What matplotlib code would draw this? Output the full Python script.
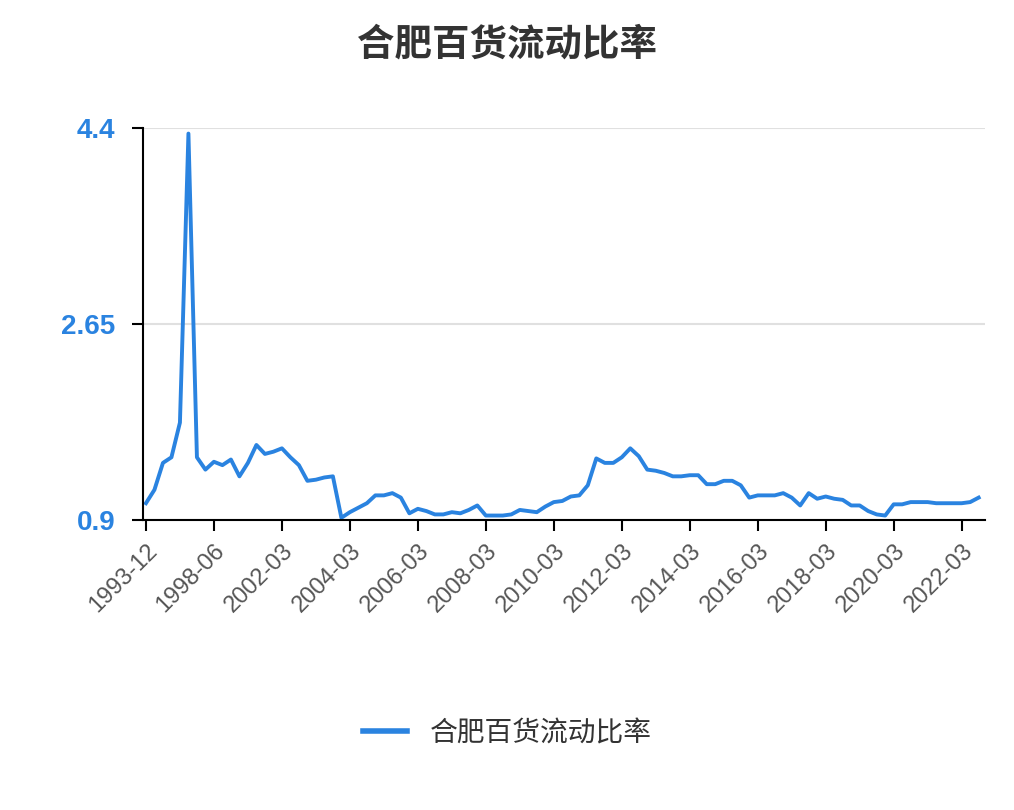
import matplotlib
matplotlib.use("Agg")
import matplotlib.pyplot as plt
from matplotlib.lines import Line2D

plt.rcParams['font.family'] = ['Noto Sans CJK SC', 'DejaVu Sans']

early_labels = ["1993-12", "1994-06", "1994-12", "1995-06", "1995-12", "1996-06", "1996-12", "1997-12",
                "1998-06", "1998-12", "1999-06", "1999-12", "2000-06", "2000-12", "2001-06", "2001-12"]
quarter_start_year = 2002
values = [1.05, 1.17, 1.41, 1.46, 1.77, 4.35, 1.46, 1.35, 1.42, 1.39, 1.44, 1.29, 1.41, 1.57, 1.49, 1.51,
          1.54, 1.46, 1.39, 1.25, 1.26, 1.28, 1.29, 0.92, 0.97, 1.01, 1.05, 1.12, 1.12, 1.14, 1.10, 0.96,
          1.00, 0.98, 0.95, 0.95, 0.97, 0.96, 0.99, 1.03, 0.94, 0.94, 0.94, 0.95, 0.99, 0.98, 0.97, 1.02,
          1.06, 1.07, 1.11, 1.12, 1.21, 1.45, 1.41, 1.41, 1.46, 1.54, 1.47, 1.35, 1.34, 1.32, 1.29, 1.29,
          1.30, 1.30, 1.22, 1.22, 1.25, 1.25, 1.21, 1.10, 1.12, 1.12, 1.12, 1.14, 1.10, 1.03, 1.14, 1.09,
          1.11, 1.09, 1.08, 1.03, 1.03, 0.98, 0.95, 0.94, 1.04, 1.04, 1.06, 1.06, 1.06, 1.05, 1.05, 1.05,
          1.05, 1.06, 1.10]
yticks = [0.9, 2.65, 4.4]
series_name = "合肥百货流动比率"

labels = list(early_labels)
q = 0
while len(labels) < len(values):
    y = quarter_start_year + q // 4
    m = [3, 6, 9, 12][q % 4]
    labels.append(f"{y}-{m:02d}")
    q += 1

fig = plt.figure(figsize=(10.14, 8.1), dpi=100)
ax = fig.add_axes([0.141, 0.358, 0.830, 0.484])
x = list(range(len(values)))
color = '#2a83e0'
ax.plot(x, values, color=color, lw=2.8, solid_joinstyle='round')
ax.set_ylim(0.9, 4.4)
ax.set_xlim(-0.35, len(values) - 0.3)
ax.set_yticks(yticks)
ax.set_yticklabels([f"{v:g}" for v in yticks], color=color, fontweight='bold', fontsize=20,
                   family=['Liberation Sans', 'DejaVu Sans'])
ax.grid(axis='y', color='#e0e0e0', lw=1.5)
ax.set_axisbelow(True)
tick_idx = x[::8]
ax.set_xticks(tick_idx)
ax.set_xticklabels([labels[i] for i in tick_idx], rotation=45, ha='right', rotation_mode='anchor',
                   color='#555555', fontsize=17, family=['Liberation Sans', 'DejaVu Sans'])
ax.tick_params(axis='x', length=8, width=1.5, color='black', pad=6)
ax.tick_params(axis='y', length=8, width=1.5, color='black', pad=12)
for s in ['top', 'right']:
    ax.spines[s].set_visible(False)
for s in ['left', 'bottom']:
    ax.spines[s].set_linewidth(1.5)
    ax.spines[s].set_color('black')

fig.suptitle(series_name, y=0.97, fontsize=27, fontweight='bold', color='#333333')
fig.legend(handles=[Line2D([0], [0], color=color, lw=4)], labels=[series_name],
           loc='center', bbox_to_anchor=(0.5, 0.095), frameon=False, fontsize=20,
           labelcolor='#333333', handlelength=1.6)
fig.savefig('out.png', dpi=100)
